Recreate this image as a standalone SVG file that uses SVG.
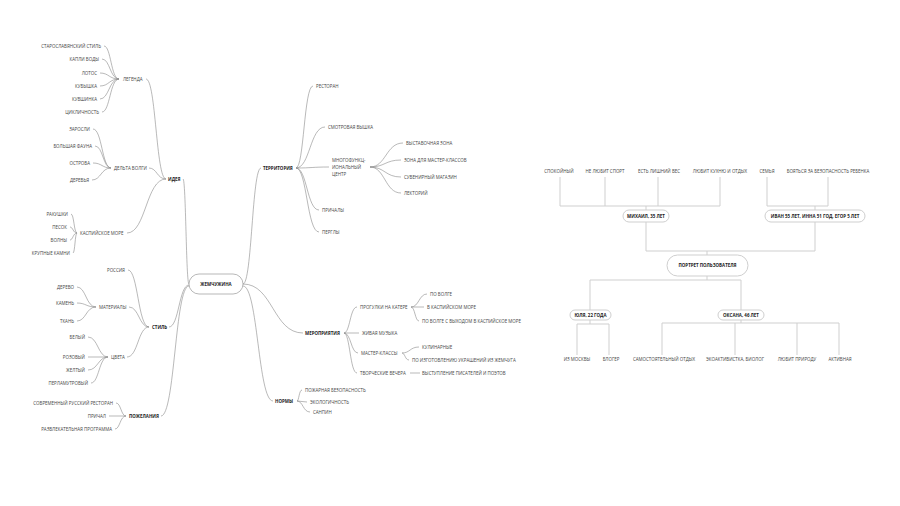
<svg xmlns="http://www.w3.org/2000/svg" width="900" height="506" viewBox="0 0 900 506">
<style>
text{font-family:"Open Sans","DejaVu Sans",sans-serif;font-size:4.45px;fill:#444;}
.b{font-weight:bold;fill:#222;}
.e{text-anchor:end;}
.m{text-anchor:middle;}
.c path{fill:none;stroke:#8a8a8a;stroke-width:0.6;}
.t path{fill:none;stroke:#cfcfcf;stroke-width:1;}
.box{fill:#fff;stroke:#999;stroke-width:0.7;}
.tbox{fill:#fff;stroke:#cfcfcf;stroke-width:1;}
</style>
<rect width="900" height="506" fill="#fff"/>
<g id="connectors" class="c">
<path d="M189,284 C186,284 186,179 183,179"/>
<path d="M189,285 C179,285 179,327 169,327"/>
<path d="M189,286 C175,286 175,416 161,416"/>
<path d="M243,284 C252,284 252,168 261,168"/>
<path d="M243,284 C273,284 273,333 303,333"/>
<path d="M243,286 C258,286 258,401 273,401"/>
<path d="M166,179 C156,179 156,79 146,79"/>
<path d="M166,179 C157,179 157,168 149,168"/>
<path d="M166,179 C146,179 146,233 127,233"/>
<path d="M119,79 C111,79 111,46 104,46"/>
<path d="M119,79 C110,79 110,59 102,59"/>
<path d="M119,79 C109,79 109,73 100,73"/>
<path d="M119,79 C109,79 109,86 100,86"/>
<path d="M119,79 C109,79 109,99 100,99"/>
<path d="M119,79 C110,79 110,112 102,112"/>
<path d="M111,168 C102,168 102,129 93,129"/>
<path d="M111,168 C103,168 103,146 95,146"/>
<path d="M111,168 C102,168 102,163 93,163"/>
<path d="M111,168 C101,168 101,180 92,180"/>
<path d="M77,233 C74,233 74,214 71,214"/>
<path d="M77,233 C73,233 73,227 70,227"/>
<path d="M77,233 C73,233 73,240 70,240"/>
<path d="M77,233 C75,233 75,253 73,253"/>
<path d="M149,327 C138,327 138,270 128,270"/>
<path d="M149,327 C139,327 139,307 129,307"/>
<path d="M149,327 C138,327 138,357 127,357"/>
<path d="M96,307 C86,307 86,287 77,287"/>
<path d="M96,307 C86,307 86,303 77,303"/>
<path d="M96,307 C86,307 86,321 77,321"/>
<path d="M108,357 C98,357 98,337 88,337"/>
<path d="M108,357 L88,357"/>
<path d="M108,357 C98,357 98,370 88,370"/>
<path d="M108,357 C99,357 99,383 91,383"/>
<path d="M126,416 C121,416 121,403 116,403"/>
<path d="M126,416 L109,416"/>
<path d="M126,416 C120,416 120,429 115,429"/>
<path d="M296,168 C304,168 304,86 313,86"/>
<path d="M296,168 C310,168 310,127 325,127"/>
<path d="M296,168 C312,168 312,167 329,167"/>
<path d="M296,168 C307,168 307,210 319,210"/>
<path d="M296,168 C307,168 307,232 319,232"/>
<path d="M370,167 C386,167 386,143 403,143"/>
<path d="M370,167 C385,167 385,160 401,160"/>
<path d="M370,167 C385,167 385,177 401,177"/>
<path d="M370,167 C385,167 385,193 401,193"/>
<path d="M344,333 C350,333 350,307 357,307"/>
<path d="M344,333 L359,333"/>
<path d="M344,333 C351,333 351,353 358,353"/>
<path d="M344,333 C350,333 350,373 357,373"/>
<path d="M411,307 C419,307 419,294 427,294"/>
<path d="M411,307 L424,307"/>
<path d="M411,307 C415,307 415,321 419,321"/>
<path d="M402,353 C410,353 410,347 419,347"/>
<path d="M402,353 C405,353 405,360 409,360"/>
<path d="M410,373 L420,373"/>
<path d="M297,401 C299,401 299,390 302,390"/>
<path d="M297,401 L307,402"/>
<path d="M297,401 C303,401 303,412 310,412"/>
</g>
<g id="tree-connectors" class="t">
<path d="M560,177 V206 M605,177 V206 M658,177 V206 M720,177 V206 M560,206 H720 M646,206 V210"/>
<path d="M767,177 V206 M828,177 V206 M767,206 H828 M815,206 V210"/>
<path d="M646,222 V251 M815,222 V251 M646,251 H815 M707,251 V255"/>
<path d="M707,276 V280 M590,280 H741 M590,280 V310 M741,280 V310"/>
<path d="M590,320 V324 M577,324 H609 M577,324 V355 M609,324 V355"/>
<path d="M741,320 V323 M662,323 H839 M662,323 V355 M735,323 V355 M797,323 V355 M839,323 V355"/>
</g>
<g id="n-center"><rect class="box" x="189" y="274" width="54" height="20" rx="10"/><text class="b m" x="216" y="286">ЖЕМЧУЖИНА</text></g>
<g id="n-idea"><text class="b" x="168" y="180.6">ИДЕЯ</text></g>
<g id="n-legenda"><text x="123" y="80.6">ЛЕГЕНДА</text></g>
<g id="n-legenda-children">
<text class="e" x="101" y="47.6">СТАРОСЛАВЯНСКИЙ СТИЛЬ</text>
<text class="e" x="99" y="60.6">КАПЛИ ВОДЫ</text>
<text class="e" x="97" y="74.6">ЛОТОС</text>
<text class="e" x="97" y="87.6">КУБЫШКА</text>
<text class="e" x="97" y="100.6">КУВШИНКА</text>
<text class="e" x="99" y="113.6">ЦИКЛИЧНОСТЬ</text>
</g>
<g id="n-delta"><text x="114" y="169.6">ДЕЛЬТА ВОЛГИ</text></g>
<g id="n-delta-children">
<text class="e" x="90" y="130.6">ЗАРОСЛИ</text>
<text class="e" x="92" y="147.6">БОЛЬШАЯ ФАУНА</text>
<text class="e" x="90" y="164.6">ОСТРОВА</text>
<text class="e" x="89" y="181.6">ДЕРЕВЬЯ</text>
</g>
<g id="n-caspian"><text x="80" y="234.6">КАСПИЙСКОЕ МОРЕ</text></g>
<g id="n-caspian-children">
<text class="e" x="68" y="215.6">РАКУШКИ</text>
<text class="e" x="67" y="228.6">ПЕСОК</text>
<text class="e" x="67" y="241.6">ВОЛНЫ</text>
<text class="e" x="70" y="254.6">КРУПНЫЕ КАМНИ</text>
</g>
<g id="n-style"><text class="b" x="152" y="328.6">СТИЛЬ</text></g>
<g id="n-russia"><text x="107" y="271.6">РОССИЯ</text></g>
<g id="n-materials"><text x="99" y="308.6">МАТЕРИАЛЫ</text></g>
<g id="n-materials-children">
<text class="e" x="74" y="288.6">ДЕРЕВО</text>
<text class="e" x="74" y="304.6">КАМЕНЬ</text>
<text class="e" x="74" y="322.6">ТКАНЬ</text>
</g>
<g id="n-colors"><text x="111" y="358.6">ЦВЕТА</text></g>
<g id="n-colors-children">
<text class="e" x="85" y="338.6">БЕЛЫЙ</text>
<text class="e" x="85" y="358.6">РОЗОВЫЙ</text>
<text class="e" x="85" y="371.6">ЖЕЛТЫЙ</text>
<text class="e" x="88" y="384.6">ПЕРЛАМУТРОВЫЙ</text>
</g>
<g id="n-wishes"><text class="b" x="129" y="417.6">ПОЖЕЛАНИЯ</text></g>
<g id="n-wishes-children">
<text class="e" x="113" y="404.6">СОВРЕМЕННЫЙ РУССКИЙ РЕСТОРАН</text>
<text class="e" x="106" y="417.6">ПРИЧАЛ</text>
<text class="e" x="112" y="430.6">РАЗВЛЕКАТЕЛЬНАЯ ПРОГРАММА</text>
</g>
<g id="n-territory"><text class="b" x="263" y="169.6">ТЕРРИТОРИЯ</text></g>
<g id="n-territory-children">
<text x="316" y="87.6">РЕСТОРАН</text>
<text x="328" y="128.6">СМОТРОВАЯ ВЫШКА</text>
<text x="322" y="211.6">ПРИЧАЛЫ</text>
<text x="322" y="233.6">ПЕРГЛЫ</text>
</g>
<g id="n-mfc"><text x="332" y="161.6">МНОГОФУНКЦ-</text><text x="332" y="168.6">ИОНАЛЬНЫЙ</text><text x="332" y="175.6">ЦЕНТР</text></g>
<g id="n-mfc-children">
<text x="406" y="144.6">ВЫСТАВОЧНАЯ ЗОНА</text>
<text x="404" y="161.6">ЗОНА ДЛЯ МАСТЕР-КЛАССОВ</text>
<text x="404" y="178.6">СУВЕНИРНЫЙ МАГАЗИН</text>
<text x="404" y="194.6">ЛЕКТОРИЙ</text>
</g>
<g id="n-events"><text class="b" x="305" y="334.6">МЕРОПРИЯТИЯ</text></g>
<g id="n-boat"><text x="360" y="308.6">ПРОГУЛКИ НА КАТЕРЕ</text></g>
<g id="n-boat-children">
<text x="430" y="295.6">ПО ВОЛГЕ</text>
<text x="427" y="308.6">В КАСПИЙСКОМ МОРЕ</text>
<text x="422" y="322.6">ПО ВОЛГЕ С ВЫХОДОМ В КАСПИЙСКОЕ МОРЕ</text>
</g>
<g id="n-music"><text x="362" y="334.6">ЖИВАЯ МУЗЫКА</text></g>
<g id="n-master"><text x="361" y="354.6">МАСТЕР-КЛАССЫ</text></g>
<g id="n-master-children">
<text x="422" y="348.6">КУЛИНАРНЫЕ</text>
<text x="412" y="361.6">ПО ИЗГОТОВЛЕНИЮ УКРАШЕНИЙ ИЗ ЖЕМЧУГА</text>
</g>
<g id="n-evenings"><text x="360" y="374.6">ТВОРЧЕСКИЕ ВЕЧЕРА</text></g>
<g id="n-writers"><text x="422" y="374.6">ВЫСТУПЛЕНИЕ ПИСАТЕЛЕЙ И ПОЭТОВ</text></g>
<g id="n-norms"><text class="b" x="275" y="402.6">НОРМЫ</text></g>
<g id="n-norms-children">
<text x="305" y="391.6">ПОЖАРНАЯ БЕЗОПАСНОСТЬ</text>
<text x="310" y="403.6">ЭКОЛОГИЧНОСТЬ</text>
<text x="313" y="413.6">САНПИН</text>
</g>
<g id="t-mikhail-traits">
<text class="m" x="559" y="172.6">СПОКОЙНЫЙ</text>
<text class="m" x="605" y="172.6">НЕ ЛЮБИТ СПОРТ</text>
<text class="m" x="659" y="172.6">ЕСТЬ ЛИШНИЙ ВЕС</text>
<text class="m" x="720" y="172.6">ЛЮБИТ КУХНЮ И ОТДЫХ</text>
</g>
<g id="t-family-traits">
<text class="m" x="767" y="172.6">СЕМЬЯ</text>
<text class="m" x="828" y="172.6">БОЯТЬСЯ ЗА БЕЗОПАСНОСТЬ РЕБЕНКА</text>
</g>
<g id="t-mikhail"><rect class="tbox" x="623" y="210" width="46" height="12" rx="6"/><text class="b m" x="646" y="217.6">МИХАИЛ, 35 ЛЕТ</text></g>
<g id="t-family"><rect class="tbox" x="765" y="210" width="100" height="12" rx="6"/><text class="b m" x="815" y="217.6">ИВАН 55 ЛЕТ, ИННА 51 ГОД, ЕГОР 5 ЛЕТ</text></g>
<g id="t-portrait"><rect class="tbox" x="667" y="255" width="81" height="21" rx="10.5"/><text class="b m" x="707.5" y="267.1">ПОРТРЕТ ПОЛЬЗОВАТЕЛЯ</text></g>
<g id="t-yulia"><rect class="tbox" x="570" y="310" width="41" height="10" rx="5"/><text class="b m" x="590.5" y="316.6">ЮЛЯ, 22 ГОДА</text></g>
<g id="t-oksana"><rect class="tbox" x="718" y="310" width="46" height="10" rx="5"/><text class="b m" x="741" y="316.6">ОКСАНА, 46 ЛЕТ</text></g>
<g id="t-yulia-traits">
<text class="m" x="577" y="360.6">ИЗ МОСКВЫ</text>
<text class="m" x="611" y="360.6">БЛОГЕР</text>
</g>
<g id="t-oksana-traits">
<text class="m" x="664" y="360.6">САМОСТОЯТЕЛЬНЫЙ ОТДЫХ</text>
<text class="m" x="735" y="360.6">ЭКОАКТИВИСТКА, БИОЛОГ</text>
<text class="m" x="797" y="360.6">ЛЮБИТ ПРИРОДУ</text>
<text class="m" x="840" y="360.6">АКТИВНАЯ</text>
</g>
</svg>
